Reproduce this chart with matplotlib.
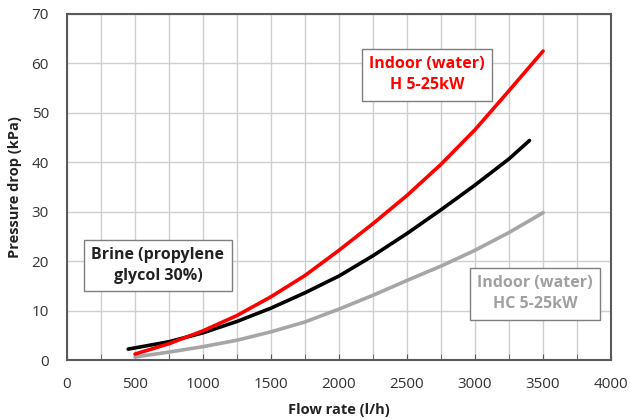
import matplotlib
matplotlib.use("Agg")
import matplotlib.pyplot as plt
from matplotlib.ticker import MultipleLocator

plt.rcParams['font.family'] = ['Open Sans', 'DejaVu Sans']

# Data
red_x = [500, 750, 1000, 1250, 1500, 1750, 2000, 2250, 2500, 2750, 3000, 3250, 3500]
red_y = [1.2, 3.3, 5.9, 9.0, 12.8, 17.1, 22.2, 27.6, 33.3, 39.6, 46.6, 54.5, 62.5]

black_x = [450, 750, 1000, 1250, 1500, 1750, 2000, 2250, 2500, 2750, 3000, 3250, 3400]
black_y = [2.2, 3.7, 5.5, 7.8, 10.5, 13.6, 17.0, 21.1, 25.6, 30.4, 35.4, 40.7, 44.4]

gray_x = [500, 750, 1000, 1250, 1500, 1750, 2000, 2250, 2500, 2750, 3000, 3250, 3500]
gray_y = [0.6, 1.6, 2.7, 4.0, 5.7, 7.7, 10.3, 13.1, 16.1, 19.0, 22.2, 25.8, 29.8]

labels = ["Indoor (water)\nH 5-25kW", "Brine (propylene\nglycol 30%)", "Indoor (water)\nHC 5-25kW"]

fig = plt.figure(figsize=(6.3, 4.19), dpi=100)
ax = fig.add_axes([0.1063, 0.1408, 0.8637, 0.8258])

ax.set_xlim(0, 4000)
ax.set_ylim(0, 70)
ax.xaxis.set_major_locator(MultipleLocator(500))
ax.xaxis.set_minor_locator(MultipleLocator(250))
ax.yaxis.set_major_locator(MultipleLocator(10))
ax.grid(True, which='both', axis='x', color='#CFCFCF', linewidth=1.0)
ax.grid(True, which='major', axis='y', color='#CFCFCF', linewidth=1.0)
ax.set_axisbelow(True)

for s in ax.spines.values():
    s.set_color('#5A5A5A')
    s.set_linewidth(1.5)

ax.tick_params(axis='both', which='both', direction='in', color='#5A5A5A',
               labelsize=11, labelcolor='#333333')
ax.tick_params(axis='x', which='major', length=4, pad=12)
ax.tick_params(axis='x', which='minor', length=4)
ax.tick_params(axis='y', which='major', length=0, pad=13)

ax.plot(gray_x, gray_y, color='#A6A6A6', linewidth=2.6, solid_capstyle='round',
        solid_joinstyle='round', zorder=3)
ax.plot(black_x, black_y, color='black', linewidth=2.6, solid_capstyle='round',
        solid_joinstyle='round', zorder=4)
ax.plot(red_x, red_y, color='#FF0000', linewidth=2.6, solid_capstyle='round',
        solid_joinstyle='round', zorder=5)

ax.set_xlabel('Flow rate (l/h)', fontsize=10.5, fontweight='bold', color='#222222', labelpad=8)
ax.set_ylabel('Pressure drop (kPa)', fontsize=10.5, fontweight='bold', color='#222222', labelpad=7)

box = dict(boxstyle='square,pad=0.45', facecolor='white', edgecolor='#7F7F7F', linewidth=1.0)
ax.text(2647, 57.7, labels[0], color='#FF0000', fontsize=11.5, fontweight='bold',
        ha='center', va='center', bbox=box, linespacing=1.45, zorder=6)
ax.text(669, 19.1, labels[1], color='#222222', fontsize=11.5, fontweight='bold',
        ha='center', va='center', bbox=box, linespacing=1.45, zorder=6)
ax.text(3441, 13.4, labels[2], color='#A0A0A0', fontsize=11.5, fontweight='bold',
        ha='center', va='center', bbox=box, linespacing=1.45, zorder=6)

fig.savefig('out.png', dpi=100)
